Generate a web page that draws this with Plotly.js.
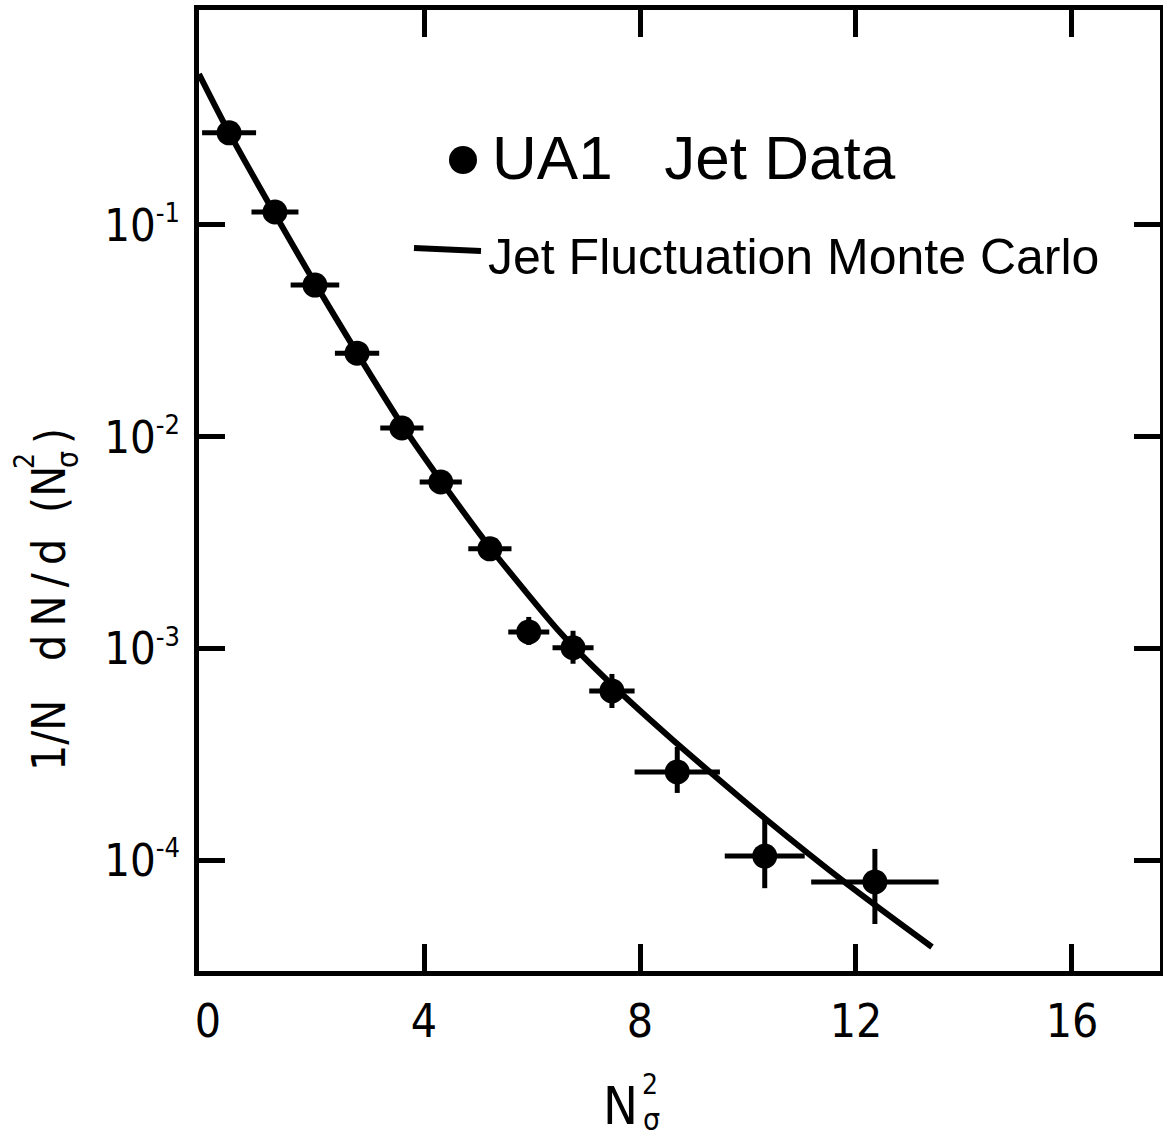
<!DOCTYPE html>
<html><head><meta charset="utf-8">
<script src="https://cdn.plot.ly/plotly-3.0.1.min.js"></script>
<style>body{margin:0;background:#fff}</style>
</head><body><div id="chart" style="width:1163px;height:1139px"></div>
<script>
// UA1 jet data points
const dataX = [0.39, 1.24, 1.98, 2.76, 3.59, 4.31, 5.22, 5.94, 6.76, 7.48, 8.69, 10.31, 12.35];
const dataY = [0.272, 0.115, 0.0520, 0.0248, 0.0110, 0.00612, 0.00296, 0.00120, 0.00101, 0.000632, 0.000262, 0.000105, 0.0000793];
const dataXErr = [0.50, 0.435, 0.45, 0.41, 0.40, 0.39, 0.40, 0.38, 0.38, 0.42, 0.79, 0.74, 1.18];
const dataYErrPlus = [0, 0, 0, 0, 0, 0, 0, 0.000212, 0.000205, 0.000128, 0.0000818, 0.0000504, 0.0000342];
const dataYErrMinus = [0, 0, 0, 0, 0, 0, 0, 0.000158, 0.000161, 0.000107, 0.0000534, 0.0000309, 0.0000291];

// Jet fluctuation Monte Carlo curve
const mcX = [-0.167, 0.389, 1.241, 1.981, 2.759, 3.593, 4.315, 5.222, 5.833, 6.463, 7.074, 7.815, 8.556, 9.296, 10.315, 11.833, 13.407];
const mcY = [0.5153, 0.2730, 0.1121, 0.05307, 0.02488, 0.01137, 0.006185, 0.003003, 0.001924, 0.001239, 0.000852, 0.000563, 0.000381, 0.0002618, 0.0001580, 0.0000776, 0.0000391];

// ticks
const xTickVals = [0, 4, 8, 12, 16];
const xTickText = ["0", "4", "8", "12", "16"];
const xTickMarkVals = [4, 8, 12, 16];
const yTickVals = [0.1, 0.01, 0.001, 0.0001];
const yTickExp = ["-1", "-2", "-3", "-4"];
const yTickText = yTickExp.map(e => "10<sup><span style='font-size:27px'>" + e + "</span></sup>");

const legendData = "UA1   Jet Data";
const legendMC = "Jet Fluctuation Monte Carlo";

const NARROW = "DejaVu Sans Condensed, Liberation Sans Narrow, sans-serif";
const SANS = "Liberation Sans, Arial, sans-serif";

// page-pixel helpers for decorations (legend/titles)
const L = 199, T = 10, W = 961, H = 961;
const px = v => (v - L) / W;
const py = v => (T + H - v) / H;

const traces = [
  {x: mcX, y: mcY, mode: 'lines', type: 'scatter', line: {color: '#000', width: 6, shape: 'spline', smoothing: 0.8}, hoverinfo: 'skip', showlegend: false},
  {x: dataX, y: dataY, mode: 'markers', type: 'scatter', marker: {color: '#000', size: 25},
   error_x: {type: 'data', array: dataXErr, color: '#000', thickness: 5, width: 0},
   error_y: {type: 'data', symmetric: false, array: dataYErrPlus, arrayminus: dataYErrMinus, color: '#000', thickness: 5, width: 0},
   showlegend: false},
  {x: [], y: [], xaxis: 'x2', type: 'scatter', showlegend: false}
];

const axisCommon = {showgrid: false, zeroline: false, showline: true, linecolor: '#000', linewidth: 5};

const layout = {
  width: 1163, height: 1139,
  margin: {l: L, r: 1163 - L - W, t: T, b: 1139 - T - H, pad: 0},
  paper_bgcolor: '#fff', plot_bgcolor: '#fff',
  showlegend: false,
  xaxis: Object.assign({}, axisCommon, {
    range: [-0.167, 17.63], tickmode: 'array', tickvals: xTickVals, ticktext: xTickText,
    ticks: '', mirror: true, ticklabelstandoff: 6,
    tickfont: {family: NARROW, size: 46, color: '#000'}
  }),
  xaxis2: Object.assign({}, axisCommon, {
    overlaying: 'x', side: 'bottom', anchor: 'y', range: [-0.167, 17.63], tickmode: 'array', tickvals: xTickMarkVals,
    ticks: 'inside', ticklen: 27, tickwidth: 5, tickcolor: '#000', mirror: 'ticks', showticklabels: false
  }),
  yaxis: Object.assign({}, axisCommon, {
    type: 'log', range: [-4.521, 0.014], tickmode: 'array', tickvals: yTickVals, ticktext: yTickText,
    ticks: 'inside', ticklen: 26, tickwidth: 5, tickcolor: '#000', mirror: 'ticks', ticklabelstandoff: 5,
    tickfont: {family: NARROW, size: 45, color: '#000'}
  }),
  shapes: [
    {type: 'circle', xref: 'paper', yref: 'paper', x0: px(449), x1: px(477), y0: py(146), y1: py(174), fillcolor: '#000', line: {width: 0}},
    {type: 'line', xref: 'paper', yref: 'paper', x0: px(414), x1: px(481), y0: py(248), y1: py(251), line: {color: '#000', width: 6}}
  ],
  annotations: [
    {xref: 'paper', yref: 'paper', x: px(490), y: py(158), xanchor: 'left', yanchor: 'middle', showarrow: false, text: legendData, font: {family: SANS, size: 62, color: '#000'}},
    {xref: 'paper', yref: 'paper', x: px(486), y: py(257), xanchor: 'left', yanchor: 'middle', showarrow: false, text: legendMC, font: {family: SANS, size: 50, color: '#000'}},
    // x title N_sigma^2
    {xref: 'paper', yref: 'paper', x: px(620), y: py(1106), xanchor: 'center', yanchor: 'middle', showarrow: false, text: 'N', font: {family: NARROW, size: 52, color: '#000'}},
    {xref: 'paper', yref: 'paper', x: px(650), y: py(1084), xanchor: 'center', yanchor: 'middle', showarrow: false, text: '2', font: {family: NARROW, size: 28, color: '#000'}},
    {xref: 'paper', yref: 'paper', x: px(651), y: py(1119), xanchor: 'center', yanchor: 'middle', showarrow: false, text: 'σ', font: {family: NARROW, size: 30, color: '#000'}},
    // y title 1/N dN/d(N_sigma^2)
    {xref: 'paper', yref: 'paper', x: px(49), y: py(736), xanchor: 'center', yanchor: 'middle', textangle: -90, showarrow: false, text: '1/N', font: {family: NARROW, size: 46, color: '#000'}},
    {xref: 'paper', yref: 'paper', x: px(49), y: py(600), xanchor: 'center', yanchor: 'middle', textangle: -90, showarrow: false, text: 'd\u2009N\u2009/\u2009d', font: {family: NARROW, size: 46, color: '#000'}},
    {xref: 'paper', yref: 'paper', x: px(49), y: py(490), xanchor: 'center', yanchor: 'middle', textangle: -90, showarrow: false, text: '(N', font: {family: NARROW, size: 46, color: '#000'}},
    {xref: 'paper', yref: 'paper', x: px(24), y: py(461), xanchor: 'center', yanchor: 'middle', textangle: -90, showarrow: false, text: '2', font: {family: NARROW, size: 28, color: '#000'}},
    {xref: 'paper', yref: 'paper', x: px(67), y: py(460), xanchor: 'center', yanchor: 'middle', textangle: -90, showarrow: false, text: 'σ', font: {family: NARROW, size: 30, color: '#000'}},
    {xref: 'paper', yref: 'paper', x: px(52), y: py(436), xanchor: 'center', yanchor: 'middle', textangle: -90, showarrow: false, text: ')', font: {family: NARROW, size: 46, color: '#000'}}
  ]
};

Plotly.newPlot('chart', traces, layout, {displayModeBar: false, staticPlot: true});
</script>
</body></html>
